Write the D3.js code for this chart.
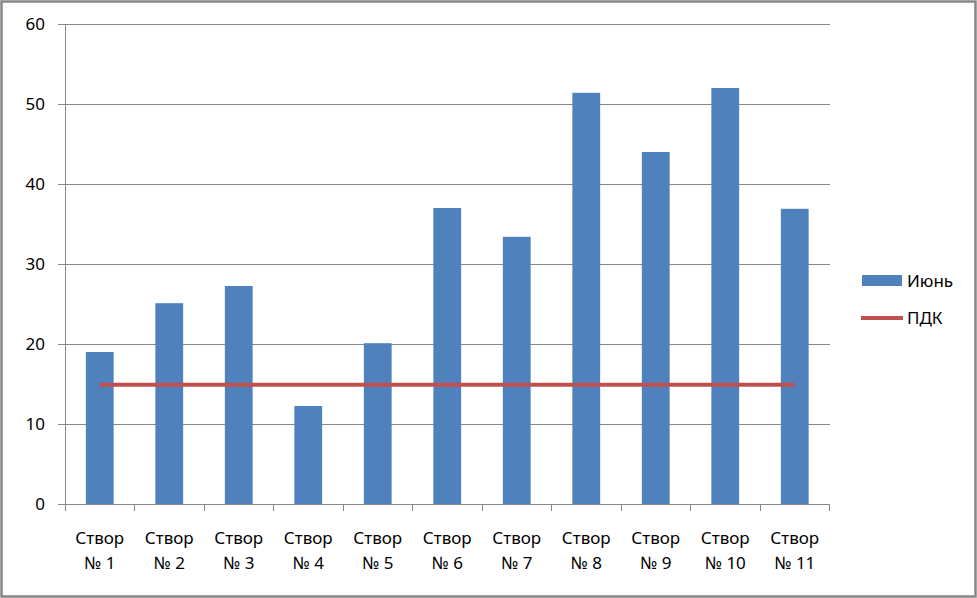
<!DOCTYPE html>
<html>
<head>
<meta charset="utf-8">
<script src="https://cdn.jsdelivr.net/npm/d3@7"></script>
<style>
	body { margin: 0; background: #fff; }
	svg text { font-family: "Noto Sans", "Open Sans", sans-serif; font-size: 17px; fill: #000; }
</style>
</head>
<body>
<div id="chart"></div>
<script>
// data
const categories = ["Створ|№ 1", "Створ|№ 2", "Створ|№ 3", "Створ|№ 4", "Створ|№ 5", "Створ|№ 6",
	"Створ|№ 7", "Створ|№ 8", "Створ|№ 9", "Створ|№ 10", "Створ|№ 11"];
const june = [19, 25.1, 27.25, 12.25, 20.1, 37, 33.4, 51.4, 44, 52, 36.9];
const pdk = [14.9, 14.9, 14.9, 14.9, 14.9, 14.9, 14.9, 14.9, 14.9, 14.9, 14.9];
const yTicks = [0, 10, 20, 30, 40, 50, 60];
const seriesNames = ["Июнь", "ПДК"];

let width = 977,
	height = 598;
let plot = { left: 65, right: 829.5, top: 24, bottom: 504 };

let svg = d3.select("#chart")
	.append("svg")
		.attr("width", width)
		.attr("height", height);

// outer frame
svg.append("rect")
	.attr("x", 1.5).attr("y", 1.5)
	.attr("width", width - 3).attr("height", height - 3)
	.attr("fill", "none")
	.attr("stroke", "#868686")
	.attr("stroke-width", 2.5);

let x = d3.scaleBand()
	.domain(categories)
	.range([plot.left, plot.right])
	.paddingInner(0.6)
	.paddingOuter(0.3);

let y = d3.scaleLinear()
	.domain([0, 60])
	.range([plot.bottom, plot.top]);

// gridlines
svg.append("g")
	.selectAll("line")
	.data(yTicks.slice(1))
	.enter()
	.append("line")
		.attr("x1", plot.left).attr("x2", plot.right)
		.attr("y1", d => y(d)).attr("y2", d => y(d))
		.attr("stroke", "#868686")
		.attr("stroke-width", 1)
		.attr("shape-rendering", "crispEdges");

// y axis
let yAxis = svg.append("g")
	.attr("transform", "translate(" + plot.left + ",0)")
	.call(d3.axisLeft(y).tickValues(yTicks).tickSize(7).tickPadding(13));
yAxis.select(".domain").attr("stroke", "#868686").attr("shape-rendering", "crispEdges");
yAxis.selectAll(".tick line").attr("stroke", "#868686").attr("shape-rendering", "crispEdges");
yAxis.selectAll(".tick text").style("font-size", "17px").attr("dy", "0.35em");
yAxis.attr("font-family", null).attr("font-size", null);

// bars
svg.append("g")
	.selectAll("rect")
	.data(june)
	.enter()
	.append("rect")
		.attr("x", (d, i) => x(categories[i]))
		.attr("width", x.bandwidth())
		.attr("y", d => y(d))
		.attr("height", d => y(0) - y(d))
		.attr("fill", "#4F81BD");

// x axis baseline and tick marks between categories
let step = x.step();
let bounds = d3.range(categories.length + 1).map(i => plot.left + i * (plot.right - plot.left) / categories.length);
svg.append("line")
	.attr("x1", plot.left).attr("x2", plot.right)
	.attr("y1", plot.bottom).attr("y2", plot.bottom)
	.attr("stroke", "#868686")
	.attr("shape-rendering", "crispEdges");
svg.append("g")
	.selectAll("line")
	.data(bounds)
	.enter()
	.append("line")
		.attr("x1", d => d).attr("x2", d => d)
		.attr("y1", plot.bottom).attr("y2", plot.bottom + 7)
		.attr("stroke", "#868686")
		.attr("shape-rendering", "crispEdges");

// category labels, two lines each
let labels = svg.append("g")
	.selectAll("text")
	.data(categories)
	.enter()
	.append("text")
		.attr("text-anchor", "middle")
		.attr("transform", d => "translate(" + (x(d) + x.bandwidth() / 2) + ",0)");
labels.append("tspan")
	.attr("x", 0).attr("y", 544)
	.text(d => d.split("|")[0]);
labels.append("tspan")
	.attr("x", 0).attr("y", 569)
	.text(d => d.split("|")[1]);

// ПДК line
let line = d3.line()
	.x((d, i) => x(categories[i]) + x.bandwidth() / 2)
	.y(d => y(d));
svg.append("path")
	.datum(pdk)
	.attr("d", line)
	.attr("fill", "none")
	.attr("stroke", "#C0504D")
	.attr("stroke-width", 4);

// legend
let legend = svg.append("g");
legend.append("rect")
	.attr("x", 862).attr("y", 275)
	.attr("width", 40).attr("height", 11)
	.attr("fill", "#4F81BD");
legend.append("text")
	.attr("x", 907).attr("y", 287)
	.text(seriesNames[0]);
legend.append("line")
	.attr("x1", 861).attr("x2", 903)
	.attr("y1", 318).attr("y2", 318)
	.attr("stroke", "#C0504D")
	.attr("stroke-width", 4);
legend.append("text")
	.attr("x", 907).attr("y", 324)
	.text(seriesNames[1]);
</script>
</body>
</html>
